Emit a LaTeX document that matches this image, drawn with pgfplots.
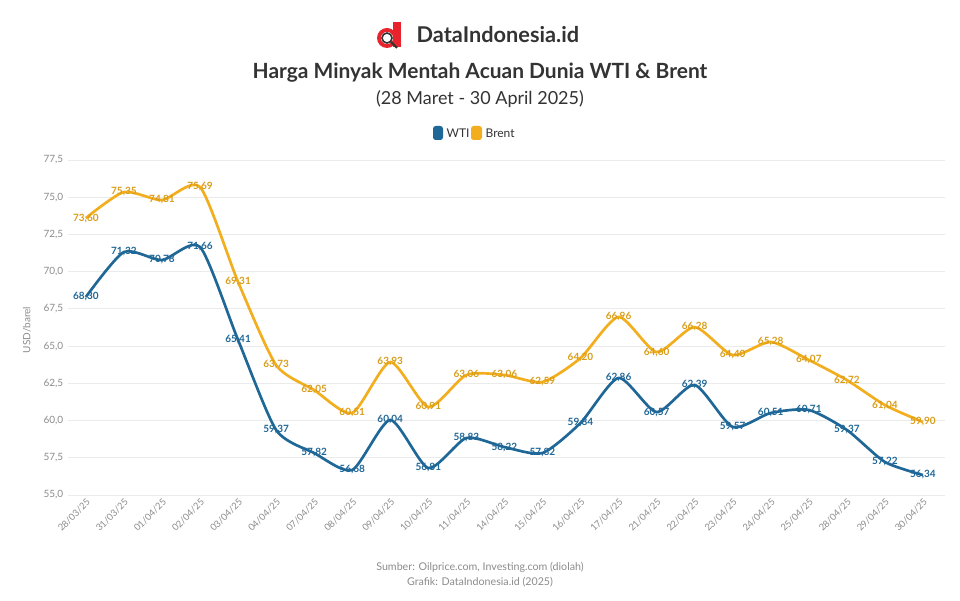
\documentclass[border=0pt]{standalone}
\usepackage{pgfplots}
\usepackage{pgfplotstable}
\pgfplotsset{compat=1.18}
\usepackage{fontspec}
\setmainfont{Lato}

\definecolor{wti}{HTML}{1F6797}
\definecolor{brent}{HTML}{F2AE1C}
\definecolor{txt}{HTML}{333333}
\definecolor{gridc}{HTML}{EBEBEB}
\definecolor{ticktxt}{HTML}{8C8C8C}
\definecolor{logored}{HTML}{E8232E}

% harga penutupan harian (USD/barel)
\pgfplotstableread{
x  wti    brent
0  68.30  73.60
1  71.32  75.35
2  70.78  74.81
3  71.66  75.69
4  65.41  69.31
5  59.37  63.73
6  57.82  62.05
7  56.68  60.51
8  60.04  63.93
9  56.81  60.91
10 58.83  63.06
11 58.22  63.06
12 57.82  62.59
13 59.84  64.20
14 62.86  66.96
15 60.57  64.60
16 62.39  66.28
17 59.57  64.40
18 60.51  65.28
19 60.71  64.07
20 59.37  62.72
21 57.22  61.04
22 56.34  59.90
}\prices

\begin{document}
\begin{tikzpicture}[x=0.75pt,y=0.75pt]
\useasboundingbox[fill=white] (0,0) rectangle (960,600);

% logo
\fill[logored] (387,562) circle (10);
\fill[logored] (393,553) rectangle (401,578);
\fill[white] (387,562) circle (6);
\draw[txt,line width=1.2pt] (387,562) circle (5);
\draw[txt,line width=1.6pt] (391,558) -- (397,552);
\node[anchor=west,text=txt,font=\fontsize{16.3}{18}\selectfont\bfseries] at (412,565) {DataIndonesia.id};

% judul
\node[text=txt,font=\fontsize{15.7}{18}\selectfont\bfseries] at (480,527) {Harga Minyak Mentah Acuan Dunia WTI \& Brent};
\node[text=txt,font=\fontsize{13.5}{16}\selectfont] at (480,501) {(28 Maret - 30 April 2025)};

% legenda
\fill[wti,rounded corners=2pt] (433,460) rectangle (443,474);
\node[anchor=west,text=txt,font=\fontsize{9}{11}\selectfont,inner sep=1pt] at (445,467) {WTI};
\fill[brent,rounded corners=2pt] (471,460) rectangle (482,474);
\node[anchor=west,text=txt,font=\fontsize{9}{11}\selectfont,inner sep=1pt] at (484,467) {Brent};

\begin{axis}[
    at={(51pt,78.75pt)}, anchor=south west,
    scale only axis,
    width=657.75pt, height=251.25pt,
    xmin=-0.47, xmax=22.58,
    ymin=55, ymax=77.5,
    ytick={55,57.5,...,77.5},
    axis line style={draw=none},
    major tick length=0pt,
    ymajorgrids,
    grid style={gridc, line width=0.6pt},
    yticklabel style={text=ticktxt, font=\fontsize{7.5}{9}\selectfont,
        /pgf/number format/.cd, fixed, fixed zerofill, precision=1, use comma, assume math mode=true},
    xtick={0,...,22},
    xticklabels={28/03/25, 31/03/25, 01/04/25, 02/04/25, 03/04/25, 04/04/25,
        07/04/25, 08/04/25, 09/04/25, 10/04/25, 11/04/25, 14/04/25,
        15/04/25, 16/04/25, 17/04/25, 21/04/25, 22/04/25, 23/04/25,
        24/04/25, 25/04/25, 28/04/25, 29/04/25, 30/04/25},
    xticklabel style={rotate=45, anchor=north east, text=ticktxt,
        font=\fontsize{7}{8}\selectfont, inner sep=1.5pt},
    clip=false,
    nodes near coords={\pgfmathprintnumber[fixed,fixed zerofill,precision=2,use comma,assume math mode=true]{\pgfplotspointmeta}},
]
\addplot[wti, line width=2pt, smooth, tension=0.4, mark=none,
    every node near coord/.append style={anchor=center, text=wti,
        font=\fontsize{7.5}{9}\selectfont\bfseries, inner sep=1pt}]
    table[x=x, y=wti] {\prices};
\addplot[brent, line width=2pt, smooth, tension=0.4, mark=none,
    every node near coord/.append style={anchor=center, text=brent!90!black,
        font=\fontsize{7.5}{9}\selectfont\bfseries, inner sep=1pt}]
    table[x=x, y=brent] {\prices};
\end{axis}

% label sumbu y
\node[rotate=90,text=ticktxt,font=\fontsize{7.5}{9}\selectfont] at (27,270) {USD/barel};

% sumber
\node[text=ticktxt,font=\fontsize{8}{10}\selectfont] at (480,33) {Sumber: Oilprice.com, Investing.com (diolah)};
\node[text=ticktxt,font=\fontsize{8}{10}\selectfont] at (480,18) {Grafik: DataIndonesia.id (2025)};
\end{tikzpicture}
\end{document}
